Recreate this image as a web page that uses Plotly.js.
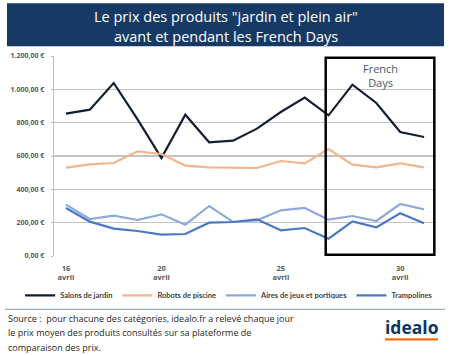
<!DOCTYPE html>
<html>
<head>
<meta charset="utf-8">
<script src="https://cdn.plot.ly/plotly-3.0.1.min.js"></script>
<style>html,body{margin:0;padding:0;background:#fff;}#chart{width:450px;height:355px;}</style>
</head>
<body>
<div id="chart"></div>
<script>
const days = [16,17,18,19,20,21,22,23,24,25,26,27,28,29,30,31];
const salons = [854,878,1038,820,588,848,682,692,764,864,950,844,1028,918,744,714];
const robots = [530,550,558,628,612,542,532,530,528,570,556,642,548,532,556,532];
const aires = [308,222,242,216,250,188,300,204,214,274,288,218,240,210,312,280];
const trampolines = [288,206,164,150,128,132,200,204,220,154,168,104,208,172,256,196];
const tickDays = [16,20,25,30];
const tickLabels = ["16<br>avril","20<br>avril","25<br>avril","30<br>avril"];
const names = ["Salons de jardin","Robots de piscine","Aires de jeux et portiques","Trampolines"];
const colors = ["#141f33","#f5b489","#8eaadb","#4a78c6"];
const series = [salons, robots, aires, trampolines];
const sourceLines = [
  "Source :  pour chacune des catégories, idealo.fr a relevé chaque jour",
  "le prix moyen des produits consultés sur sa plateforme de",
  "comparaison des prix."
];

const FONT = "Open Sans, Noto Sans, sans-serif";
const LEG_FONT = "Lato, Open Sans, sans-serif";
const LEG_SIZE = 7.5;

// measure legend text widths so that the legend fits on one row
const cv = document.createElement('canvas').getContext('2d');
cv.font = 'bold ' + LEG_SIZE + 'px Lato';
const textW = names.map(n => cv.measureText(n).width);
const budget = 430 - 4*40 - 3*5;
const total = textW.reduce((a,b)=>a+b,0);
const shrink = total > budget ? (total - budget)/4 : 0;

const traces = series.map((s,i)=>({
  x: days, y: s, type:'scatter', mode:'lines', name: names[i],
  line:{color: colors[i], width: 2.2},
  legendwidth: Math.max(10, textW[i] - shrink)
}));

const L = 54, R = 436, T = 55.7, B = 255.7;
const px = p => (p - L) / (R - L);
const py = p => (B - p) / (B - T);

const annotations = [
  {xref:'paper', yref:'paper', x:px(226), y:py(16), text:'Le prix des produits "jardin et plein air"', showarrow:false,
    font:{size:14.5, color:'#fff', family:FONT}, xanchor:'center', yanchor:'middle'},
  {xref:'paper', yref:'paper', x:px(226), y:py(36), text:'avant et pendant les French Days', showarrow:false,
    font:{size:14.5, color:'#fff', family:FONT}, xanchor:'center', yanchor:'middle'},
  {xref:'paper', yref:'paper', x:px(380), y:py(75), text:'French<br>Days', showarrow:false,
    font:{size:11, color:'#44546a', family:FONT}, xanchor:'center', yanchor:'middle'},
  {xref:'paper', yref:'paper', x:px(411.5), y:py(327), text:'<b>idealo</b>', showarrow:false,
    font:{size:17.5, color:'#0a3761', family:FONT}, xanchor:'center', yanchor:'middle'}
];
sourceLines.forEach((t,i)=>annotations.push({xref:'paper', yref:'paper', x:px(6), y:py(318 + i*14.5), text:t, showarrow:false,
  align:'left', font:{size:9, color:'#262626', family:FONT}, xanchor:'left', yanchor:'middle'}));

const legW = 4*40 + 3*5 + traces.reduce((a,t)=>a+t.legendwidth,0);
const legLeft = 226 - legW/2;

const layout = {
  width:450, height:355,
  margin:{l:L, r:450-R, t:T, b:355-B, pad:0},
  paper_bgcolor:'#fff', plot_bgcolor:'#fff',
  separators: ',.',
  showlegend:true,
  font:{family:FONT, color:'#595959'},
  xaxis:{range:[15.5,31.5], tickvals:tickDays, ticktext:tickLabels, showgrid:false, zeroline:false,
    showline:false, ticks:'', ticklabelstandoff:6, tickfont:{size:7.5, color:'#595959', family:FONT, weight:'bold'}},
  yaxis:{range:[0,1200], dtick:200, tickformat:',.2f', ticksuffix:' €', showgrid:true, gridcolor:'#c4c4c4', gridwidth:1.3,
    zeroline:false, showline:true, linecolor:'#bdbdbd', linewidth:1.3, ticks:'outside', ticklen:2, tickcolor:'#bdbdbd',
    ticklabelstandoff:5, tickfont:{size:7, color:'#595959', family:FONT, weight:'bold'}},
  legend:{orientation:'h', x:px(legLeft), xanchor:'left', y:py(295), yanchor:'middle', itemwidth:30,
    font:{size:LEG_SIZE, color:'#404040', family:LEG_FONT, weight:'bold'}, tracegroupgap:0, bgcolor:'rgba(0,0,0,0)', borderwidth:0},
  shapes:[
    {type:'rect', xref:'paper', yref:'paper', x0:px(7), x1:px(444), y0:py(46), y1:py(3), fillcolor:'#173a64', line:{width:0}, layer:'below'},
    {type:'rect', xref:'x', yref:'y', x0:26.88, x1:31.43, y0:8, y1:1190, line:{color:'#000', width:2.5}, fillcolor:'rgba(0,0,0,0)'},
    {type:'line', xref:'paper', yref:'paper', x0:px(5), x1:px(445), y0:py(309), y1:py(309), line:{color:'#8497b0', width:1}},
    {type:'line', xref:'paper', yref:'paper', x0:px(385), x1:px(438), y0:py(339), y1:py(339), line:{color:'#ff6600', width:2.2}}
  ],
  annotations: annotations
};
Plotly.newPlot('chart', traces, layout, {displayModeBar:false, staticPlot:true});
</script>
</body>
</html>
